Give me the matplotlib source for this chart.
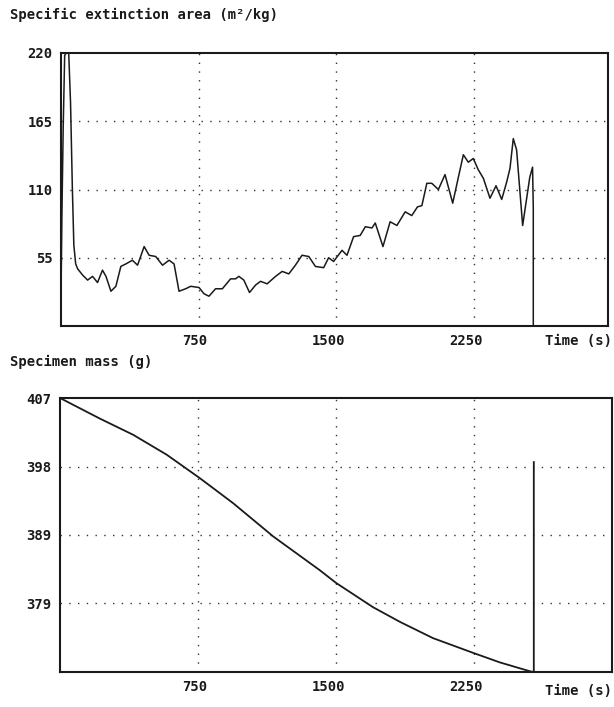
import matplotlib
matplotlib.use("Agg")
import matplotlib.pyplot as plt
from matplotlib.transforms import ScaledTranslation

# ---- data ----
sea_time = [0, 5, 12, 20, 28, 42, 52, 62, 70, 80, 91, 118, 145, 172, 199, 226, 245, 272,
            299, 326, 353, 389, 417, 453, 480, 516, 553, 589, 616, 643, 679, 707, 752,
            779, 806, 842, 879, 924, 951, 969, 996, 1027, 1060, 1087, 1123, 1169, 1205,
            1241, 1277, 1313, 1350, 1386, 1431, 1458, 1485, 1531, 1558, 1594, 1630, 1658,
            1694, 1712, 1754, 1793, 1830, 1875, 1911, 1942, 1966, 1993, 2020, 2056, 2092,
            2134, 2165, 2192, 2219, 2246, 2273, 2301, 2337, 2370, 2401, 2428, 2446, 2464,
            2482, 2515, 2536, 2554, 2569, 2573, 2573]
sea_value = [25, 90, 160, 218, 220, 220, 180, 110, 65, 50, 46, 41, 37, 40, 35, 45, 40, 28,
             32, 48, 50, 53, 49, 64, 57, 56, 49, 53, 50, 28, 30, 32, 31,
             26, 24, 30, 30, 38, 38, 40, 37, 27, 33, 36, 34, 40, 44,
             42, 49, 57, 56, 48, 47, 55, 52, 61, 57, 72, 73, 80,
             79, 83, 64, 84, 81, 92, 89, 96, 97, 115, 115, 110, 122,
             99, 120, 138, 132, 135, 126, 119, 103, 113, 102, 116, 127, 151,
             142, 81, 102, 120, 128, 95, 0]

mass_time = [0, 217, 398, 580, 761, 942, 1159, 1413, 1500, 1701, 1848, 2027, 2245,
             2391, 2554, 2575, 2575]
mass_value = [407.2, 404.4, 402.2, 399.5, 396.3, 392.9, 388.4, 383.8, 382.1, 378.8,
              376.8, 374.6, 372.6, 371.3, 370.1, 370.0, 398.5]

x_ticks = [750, 1500, 2250]
x_tick_labels = ["750", "1500", "2250"]
sea_ticks = [55, 110, 165, 220]
sea_tick_labels = ["55", "110", "165", "220"]
mass_ticks = [379.3, 388.6, 397.9, 407.2]
mass_tick_labels = ["379", "389", "398", "407"]

title_top = "Specific extinction area (m²/kg)"
title_bottom = "Specimen mass (g)"
x_label = "Time (s)"

FONT = "DejaVu Sans Mono"
FS = 10
WEIGHT = "bold"
INK = "#1a1a1a"

W, H = 614, 707
fig = plt.figure(figsize=(W / 100, H / 100), dpi=100)
fig.patch.set_facecolor("white")


def box(l, t, r, b):
    return [l / W, 1 - b / H, (r - l) / W, (b - t) / H]


ax1 = fig.add_axes(box(61, 53, 608, 326))
ax2 = fig.add_axes(box(60, 398, 612, 672))

grid_style = dict(color="#333333", linestyle=(0, (1, 5.3)), linewidth=1.0)
shift = ScaledTranslation(9 / 100, 0, fig.dpi_scale_trans)


def style(ax, xlim, ylim, yt, ytl):
    ax.set_xlim(*xlim)
    ax.set_ylim(*ylim)
    ax.set_xticks(x_ticks)
    ax.set_xticklabels(x_tick_labels)
    ax.set_yticks(yt)
    ax.set_yticklabels(ytl)
    ax.tick_params(length=0, labelsize=FS, colors=INK, pad=6)
    for lab in ax.get_xticklabels() + ax.get_yticklabels():
        lab.set_family(FONT)
        lab.set_weight(WEIGHT)
    for lab in ax.get_xticklabels():
        lab.set_horizontalalignment("right")
        lab.set_transform(lab.get_transform() + shift)
    for s in ax.spines.values():
        s.set_linewidth(1.5)
        s.set_color(INK)
    for xv in x_ticks:
        ax.axvline(xv, **grid_style, zorder=1)
    for yv in yt[:-1]:
        ax.axhline(yv, **grid_style, zorder=1)


style(ax1, (0, 2980), (0, 220), sea_ticks, sea_tick_labels)
style(ax2, (0, 3000), (370, 407.2), mass_ticks, mass_tick_labels)

ax1.plot(sea_time, sea_value, color=INK, linewidth=1.1, zorder=3, clip_on=True)
ax2.plot(mass_time, mass_value, color=INK, linewidth=1.3, zorder=3)

txt = dict(family=FONT, fontsize=FS, color=INK, weight=WEIGHT, ha="left", va="center")
fig.text(10 / W, 1 - 15 / H, title_top, **txt)
fig.text(10 / W, 1 - 362 / H, title_bottom, **txt)
fig.text(545 / W, 1 - 341 / H, x_label, **txt)
fig.text(545 / W, 1 - 691 / H, x_label, **txt)

fig.savefig("out.png", dpi=100, facecolor="white")
